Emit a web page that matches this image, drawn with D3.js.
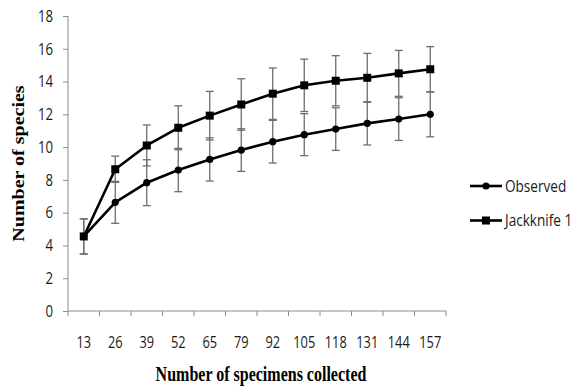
<!DOCTYPE html>
<html>
<head>
<meta charset="utf-8">
<script src="https://cdn.jsdelivr.net/npm/d3@7"></script>
<style>
  body { margin: 0; background: #fff; }
  svg { display: block; }
</style>
</head>
<body>
<svg id="chart"></svg>
<script>
// sample sizes (x categories)
const specimens = ["13", "26", "39", "52", "65", "79", "92", "105", "118", "131", "144", "157"];
// species accumulation
const observed = [4.55, 6.63, 7.83, 8.6, 9.25, 9.82, 10.33, 10.76, 11.1, 11.45, 11.71, 12.0];
const observedErr = [1.07, 1.28, 1.4, 1.32, 1.32, 1.3, 1.3, 1.28, 1.3, 1.32, 1.3, 1.37];
const jackknife = [4.55, 8.65, 10.1, 11.18, 11.92, 12.6, 13.26, 13.77, 14.05, 14.23, 14.5, 14.75];
const jackknifeErr = [1.07, 0.8, 1.25, 1.34, 1.48, 1.57, 1.57, 1.6, 1.53, 1.49, 1.4, 1.38];
const yTicks = [0, 2, 4, 6, 8, 10, 12, 14, 16, 18];

const svgWidth = 573, svgHeight = 386;
const margin = { top: 16, right: 127, bottom: 75, left: 68 };
const width = svgWidth - margin.left - margin.right;
const height = svgHeight - margin.top - margin.bottom;
const sansFont = "'Open Sans', sans-serif";
const serifFont = "'Liberation Serif', 'Times New Roman', serif";
// the source figure is squeezed horizontally, so glyphs are narrowed to match
const squeeze = 0.8;

const svg = d3.select("#chart")
  .attr("width", svgWidth)
  .attr("height", svgHeight);

const g = svg.append("g")
  .attr("transform", "translate(" + margin.left + "," + margin.top + ")");

const x = d3.scaleBand().domain(specimens).range([0, width]);
const y = d3.scaleLinear().domain([0, 18]).range([height, 0]);
const cx = d => x(d) + x.bandwidth() / 2;

// x axis: ticks sit on category boundaries
const xAxis = g.append("g").attr("transform", "translate(0," + height + ")");
xAxis.append("line")
  .attr("x1", 0).attr("x2", width)
  .attr("stroke", "#8c8c8c");
xAxis.selectAll(".tk")
  .data(d3.range(specimens.length + 1))
  .join("line")
  .attr("x1", i => i * x.step()).attr("x2", i => i * x.step())
  .attr("y1", 0).attr("y2", 5)
  .attr("stroke", "#8c8c8c");
xAxis.selectAll("text")
  .data(specimens)
  .join("text")
  .attr("transform", d => "translate(" + cx(d) + ",37) scale(" + squeeze + ",1)")
  .attr("text-anchor", "middle")
  .attr("font-family", sansFont)
  .attr("font-size", 16)
  .attr("fill", "#1a1a1a")
  .text(d => d);

// y axis
const yAxis = g.append("g")
  .call(d3.axisLeft(y).tickValues(yTicks).tickSize(5));
yAxis.selectAll("path, line").attr("stroke", "#8c8c8c");
yAxis.select(".domain").attr("d", "M0," + height + "V0");
yAxis.selectAll("text")
  .attr("x", 0)
  .attr("transform", "translate(-15,0) scale(" + squeeze + ",1)")
  .attr("font-family", sansFont)
  .attr("font-size", 16.5)
  .attr("fill", "#1a1a1a");

// axis titles
svg.append("text")
  .attr("transform", "translate(261,381) scale(" + squeeze + ",1)")
  .attr("text-anchor", "middle")
  .attr("font-family", serifFont)
  .attr("font-weight", "bold")
  .attr("font-size", 20)
  .text("Number of specimens collected");

svg.append("text")
  .attr("transform", "translate(18," + (margin.top + height / 2) + ") scale(" + squeeze + ",1) rotate(-90)")
  .attr("text-anchor", "middle")
  .attr("dy", "0.35em")
  .attr("font-family", serifFont)
  .attr("font-weight", "bold")
  .attr("font-size", 20)
  .text("Number of species");

const series = [
  { name: "Observed", values: observed, err: observedErr, shape: "circle" },
  { name: "Jackknife 1", values: jackknife, err: jackknifeErr, shape: "square" }
];

// error bars first, lines and markers on top
series.forEach(s => {
  const eb = g.append("g").attr("stroke", "#6e6e6e").attr("stroke-width", 1.3);
  specimens.forEach((c, i) => {
    const hi = y(s.values[i] + s.err[i]), lo = y(s.values[i] - s.err[i]);
    eb.append("line").attr("x1", cx(c)).attr("x2", cx(c)).attr("y1", hi).attr("y2", lo);
    eb.append("line").attr("x1", cx(c) - 4).attr("x2", cx(c) + 4).attr("y1", hi).attr("y2", hi);
    eb.append("line").attr("x1", cx(c) - 4).attr("x2", cx(c) + 4).attr("y1", lo).attr("y2", lo);
  });
});

const line = d3.line()
  .x((d, i) => cx(specimens[i]))
  .y(d => y(d));

function marker(sel, shape) {
  if (shape === "circle") {
    sel.append("circle").attr("r", 3.6).attr("fill", "#000");
  } else {
    sel.append("rect").attr("x", -4).attr("y", -4).attr("width", 8).attr("height", 8).attr("fill", "#000");
  }
}

series.forEach(s => {
  g.append("path")
    .datum(s.values)
    .attr("fill", "none")
    .attr("stroke", "#000")
    .attr("stroke-width", 2.6)
    .attr("stroke-linejoin", "round")
    .attr("d", line);
  s.values.forEach((v, i) => {
    const m = g.append("g").attr("transform", "translate(" + cx(specimens[i]) + "," + y(v) + ")");
    marker(m, s.shape);
  });
});

// legend
const legend = svg.append("g");
series.forEach((s, i) => {
  const ly = 186 + i * 34.5;
  legend.append("line")
    .attr("x1", 470).attr("x2", 502)
    .attr("y1", ly).attr("y2", ly)
    .attr("stroke", "#000").attr("stroke-width", 2.6);
  const m = legend.append("g").attr("transform", "translate(486," + ly + ")");
  marker(m, s.shape);
  legend.append("text")
    .attr("transform", "translate(505," + ly + ") scale(0.85,1)")
    .attr("dy", "0.35em")
    .attr("font-family", sansFont)
    .attr("font-size", 16)
    .attr("fill", "#1a1a1a")
    .text(s.name);
});
</script>
</body>
</html>
